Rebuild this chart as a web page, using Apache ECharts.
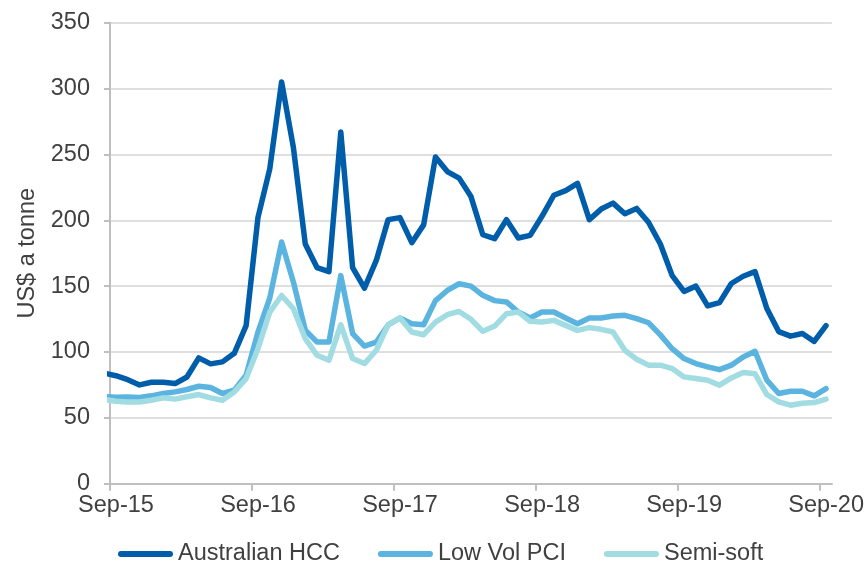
<!DOCTYPE html>
<html>
<head>
<meta charset="utf-8">
<script src="https://cdn.jsdelivr.net/npm/echarts@6/dist/echarts.min.js"></script>
<style>
  html, body { margin: 0; padding: 0; background: #ffffff; }
  #chart { width: 867px; height: 564px; }
</style>
</head>
<body>
<div id="chart"></div>
<script>
// Monthly coking coal prices, US$ a tonne (mid-month observations)
const months = [
  'Aug-15',
  'Sep-15','Oct-15','Nov-15','Dec-15','Jan-16','Feb-16','Mar-16','Apr-16','May-16','Jun-16','Jul-16','Aug-16',
  'Sep-16','Oct-16','Nov-16','Dec-16','Jan-17','Feb-17','Mar-17','Apr-17','May-17','Jun-17','Jul-17','Aug-17',
  'Sep-17','Oct-17','Nov-17','Dec-17','Jan-18','Feb-18','Mar-18','Apr-18','May-18','Jun-18','Jul-18','Aug-18',
  'Sep-18','Oct-18','Nov-18','Dec-18','Jan-19','Feb-19','Mar-19','Apr-19','May-19','Jun-19','Jul-19','Aug-19',
  'Sep-19','Oct-19','Nov-19','Dec-19','Jan-20','Feb-20','Mar-20','Apr-20','May-20','Jun-20','Jul-20','Aug-20',
  'Sep-20'
];

const australianHCC = [
  84,
  82, 79, 75, 77, 77, 76, 81, 95.5, 91, 92.5, 99, 120,
  202, 239, 305, 255, 182, 164, 161, 267, 164, 148.5, 169.5, 200.5,
  202, 183, 196.5, 248, 237, 232, 218, 189, 186, 200.5, 186.5, 188.5,
  203, 219, 222.5, 228, 200.5, 208.5, 213, 205, 209, 198.5, 182, 158,
  146, 150, 135, 137.5, 152, 157.5, 161, 133, 115.5, 112, 114, 108,
  120
];

const lowVolPCI = [
  66,
  65.7, 65.9, 65.4, 66.7, 68.5, 69.7, 71.5, 74, 73, 68.5, 71, 82.3,
  115, 141, 183.5, 153, 116.5, 107.5, 107.5, 158, 114, 104.5, 107.5, 120.5,
  125.8, 121.5, 120.7, 139, 146.7, 151.8, 150, 143, 139, 138, 130.3, 125.8,
  130.3, 130.3, 125.8, 121.5, 125.8, 125.8, 127.3, 127.8, 125.3, 122.2, 113, 102.5,
  95, 91.2, 88.7, 86.6, 90, 96.2, 100.5, 78.6, 68.5, 70.2, 70.2, 66.7,
  72.2
];

const semiSoft = [
  64,
  62.6, 62.1, 62.1, 63.4, 65.2, 64.2, 66, 67.7, 65.2, 63.4, 69.7, 79.8,
  102.5, 130.3, 142.9, 132.8, 110.1, 97.5, 93.7, 120.7, 95, 91.2, 101.3, 120.7,
  125.8, 115.2, 113.1, 122.7, 128.3, 130.8, 124.8, 115.7, 119.7, 129.1, 130.3, 123.3,
  122.7, 124, 120.2, 116.4, 118.5, 117.2, 115.2, 101.3, 94.5, 90, 90, 87.4,
  81.1, 79.8, 78.6, 74.8, 80.3, 84.4, 83.4, 67.7, 62.1, 59.6, 61.1, 61.6,
  64.2
];

const seriesNames = ['Australian HCC', 'Low Vol PCI', 'Semi-soft'];
const seriesColors = ['#005DAA', '#5AB4DF', '#A1DCE2'];
const tickLabels = ['Sep-15', 'Sep-16', 'Sep-17', 'Sep-18', 'Sep-19', 'Sep-20'];

// x is measured in months from 1 Sep 2015; each observation sits mid-month
const monthPos = i => i - 0.5;
const toPoints = arr => arr.map((v, i) => [monthPos(i), v]);

const textColor = '#404040';
const fontFamily = '"Liberation Sans", Arial, sans-serif';
const tickPositions = tickLabels.map((_, i) => i * 12);

const chart = echarts.init(document.getElementById('chart'), null, { renderer: 'canvas' });

chart.setOption({
  animation: false,
  backgroundColor: '#ffffff',
  textStyle: { fontFamily: fontFamily, color: textColor },
  grid: { left: 110, right: 34, top: 22.7, bottom: 80.3, containLabel: false },
  legend: {
    data: seriesNames,
    left: 113,
    top: 537,
    itemWidth: 55,
    itemHeight: 6,
    itemGap: 38,
    icon: 'path://M3,0 L52,0 A3,3 0 0 1 52,6 L3,6 A3,3 0 0 1 3,0 Z',
    textStyle: { fontSize: 23.5, color: textColor, fontFamily: fontFamily }
  },
  xAxis: {
    type: 'value',
    min: 0,
    max: 61,
    interval: 12,
    splitLine: { show: false },
    axisLine: { show: true, lineStyle: { color: '#bfbfbf', width: 2 } },
    axisTick: {
      show: true,
      length: 7,
      customValues: tickPositions,
      lineStyle: { color: '#bfbfbf', width: 2 }
    },
    axisLabel: {
      customValues: tickPositions,
      formatter: v => tickLabels[Math.round(v / 12)] || '',
      fontSize: 23.5,
      color: textColor,
      fontFamily: fontFamily,
      margin: 10,
      padding: [0, 0, 0, 12]
    }
  },
  yAxis: {
    type: 'value',
    min: 0,
    max: 350,
    interval: 50,
    name: 'US$ a tonne',
    nameLocation: 'middle',
    nameGap: 61,
    nameTextStyle: { fontSize: 23.5, color: textColor, fontFamily: fontFamily },
    axisLine: { show: true, lineStyle: { color: '#bfbfbf', width: 2 } },
    axisTick: { show: true, length: 6, lineStyle: { color: '#bfbfbf', width: 2 } },
    splitLine: { show: true, lineStyle: { color: '#d4d4d4', width: 1.5 } },
    axisLabel: { fontSize: 23.5, color: textColor, fontFamily: fontFamily, margin: 20 }
  },
  series: [australianHCC, lowVolPCI, semiSoft].map((arr, idx) => ({
    name: seriesNames[idx],
    type: 'line',
    data: toPoints(arr),
    showSymbol: false,
    symbol: 'none',
    clip: true,
    color: seriesColors[idx],
    lineStyle: { width: 5.5, color: seriesColors[idx], cap: 'round', join: 'round' }
  }))
});
</script>
</body>
</html>
